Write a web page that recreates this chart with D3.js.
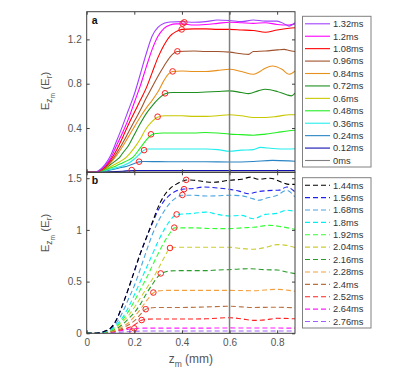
<!DOCTYPE html>
<html><head><meta charset="utf-8">
<script src="https://cdn.jsdelivr.net/npm/d3@7"></script>
<style>body{margin:0;background:#fff}svg{display:block}</style>
</head><body><svg id="c" width="415" height="374"></svg>
<script>
// ---------- DATA ----------
const xTicks = [0, 0.2, 0.4, 0.6, 0.8];
const yTicksA = [0.4, 0.8, 1.2];
const yTicksB = [0, 0.5, 1, 1.5];
const markerX = 0.6;

const labelsA = ["1.32ms","1.2ms","1.08ms","0.96ms","0.84ms","0.72ms","0.6ms","0.48ms","0.36ms","0.24ms","0.12ms","0ms"];
const labelsB = ["1.44ms","1.56ms","1.68ms","1.8ms","1.92ms","2.04ms","2.16ms","2.28ms","2.4ms","2.52ms","2.64ms","2.76ms"];

const a132 = [[0,0],[0.035,0],[0.05,0.015],[0.075,0.065],[0.1,0.15],[0.125,0.28],[0.15,0.415],[0.175,0.56],[0.2,0.705],[0.225,0.885],[0.25,1.07],[0.275,1.23],[0.3,1.31],[0.325,1.345],[0.35,1.357],[0.4,1.36],[0.45,1.355],[0.5,1.36],[0.55,1.375],[0.6,1.37],[0.65,1.36],[0.7,1.375],[0.75,1.365],[0.8,1.365],[0.83,1.34],[0.85,1.32],[0.875,1.35]];
const a120 = [[0,0],[0.035,0],[0.05,0.012],[0.075,0.055],[0.1,0.125],[0.125,0.24],[0.15,0.355],[0.175,0.48],[0.2,0.63],[0.225,0.78],[0.25,0.95],[0.275,1.11],[0.3,1.23],[0.325,1.3],[0.35,1.33],[0.375,1.34],[0.4,1.34],[0.45,1.33],[0.5,1.335],[0.55,1.345],[0.6,1.355],[0.65,1.35],[0.7,1.345],[0.75,1.35],[0.8,1.335],[0.85,1.33],[0.875,1.34]];
const a108 = [[0,0],[0.035,0],[0.05,0.01],[0.075,0.045],[0.1,0.11],[0.125,0.2],[0.15,0.31],[0.175,0.43],[0.2,0.54],[0.225,0.65],[0.25,0.76],[0.275,0.9],[0.3,1.04],[0.325,1.15],[0.35,1.23],[0.375,1.27],[0.4,1.29],[0.45,1.295],[0.5,1.295],[0.55,1.29],[0.6,1.29],[0.65,1.285],[0.7,1.28],[0.75,1.265],[0.8,1.285],[0.85,1.3],[0.875,1.305]];
const a096 = [[0,0],[0.035,0],[0.05,0.009],[0.075,0.04],[0.1,0.095],[0.125,0.17],[0.15,0.26],[0.175,0.36],[0.2,0.46],[0.225,0.56],[0.25,0.67],[0.275,0.77],[0.3,0.87],[0.325,0.96],[0.35,1.04],[0.38,1.09],[0.45,1.095],[0.5,1.09],[0.55,1.09],[0.6,1.085],[0.65,1.07],[0.68,1.065],[0.7,1.09],[0.75,1.095],[0.8,1.105],[0.83,1.11],[0.85,1.1],[0.875,1.09]];
const a084 = [[0,0],[0.035,0],[0.05,0.008],[0.075,0.035],[0.1,0.085],[0.125,0.15],[0.15,0.23],[0.175,0.32],[0.2,0.41],[0.225,0.5],[0.25,0.58],[0.275,0.65],[0.3,0.73],[0.325,0.83],[0.345,0.89],[0.36,0.91],[0.4,0.915],[0.45,0.91],[0.5,0.91],[0.55,0.92],[0.6,0.93],[0.65,0.91],[0.7,0.885],[0.72,0.9],[0.75,0.94],[0.78,0.96],[0.82,0.93],[0.85,0.885],[0.875,0.915]];
const a072 = [[0,0],[0.035,0],[0.05,0.007],[0.075,0.03],[0.1,0.07],[0.125,0.11],[0.14,0.14],[0.15,0.17],[0.175,0.24],[0.2,0.34],[0.225,0.44],[0.25,0.53],[0.275,0.6],[0.3,0.66],[0.33,0.71],[0.36,0.72],[0.45,0.72],[0.5,0.725],[0.55,0.73],[0.6,0.735],[0.65,0.72],[0.68,0.71],[0.72,0.735],[0.75,0.75],[0.8,0.73],[0.84,0.7],[0.86,0.69],[0.875,0.715]];
const a060 = [[0,0],[0.035,0],[0.05,0.006],[0.075,0.025],[0.1,0.05],[0.125,0.08],[0.15,0.11],[0.168,0.14],[0.2,0.22],[0.225,0.3],[0.245,0.38],[0.275,0.46],[0.3,0.5],[0.33,0.51],[0.4,0.51],[0.45,0.505],[0.5,0.505],[0.55,0.51],[0.6,0.52],[0.65,0.51],[0.7,0.495],[0.75,0.495],[0.8,0.505],[0.85,0.52],[0.875,0.52]];
const a048 = [[0,0],[0.035,0],[0.05,0.005],[0.075,0.02],[0.1,0.04],[0.125,0.06],[0.15,0.085],[0.175,0.11],[0.196,0.14],[0.225,0.22],[0.25,0.29],[0.27,0.335],[0.29,0.35],[0.32,0.355],[0.4,0.355],[0.45,0.355],[0.5,0.36],[0.55,0.355],[0.6,0.345],[0.65,0.34],[0.7,0.335],[0.75,0.345],[0.8,0.36],[0.85,0.375],[0.875,0.38]];
const a036 = [[0,0],[0.035,0],[0.05,0.004],[0.075,0.015],[0.1,0.028],[0.125,0.042],[0.15,0.058],[0.175,0.081],[0.2,0.12],[0.225,0.17],[0.24,0.198],[0.26,0.21],[0.3,0.21],[0.4,0.21],[0.5,0.21],[0.55,0.205],[0.6,0.19],[0.65,0.2],[0.7,0.205],[0.73,0.225],[0.78,0.215],[0.85,0.21],[0.875,0.212]];
const a024 = [[0,0],[0.035,0],[0.05,0.003],[0.075,0.01],[0.1,0.02],[0.125,0.032],[0.15,0.045],[0.175,0.06],[0.2,0.08],[0.22,0.094],[0.24,0.097],[0.3,0.096],[0.4,0.095],[0.5,0.095],[0.6,0.093],[0.7,0.098],[0.78,0.108],[0.85,0.103],[0.875,0.1]];
const a012 = [[0,0],[0.05,0],[0.1,0.005],[0.15,0.01],[0.2,0.016],[0.875,0.016]];
const a000 = [[0,0],[0.875,0]];

const b144 = [[0,0],[0.04,0],[0.075,0.02],[0.1,0.05],[0.125,0.13],[0.15,0.27],[0.175,0.43],[0.2,0.6],[0.225,0.77],[0.25,0.92],[0.275,1.07],[0.3,1.22],[0.325,1.33],[0.35,1.4],[0.375,1.44],[0.4,1.47],[0.42,1.483],[0.45,1.48],[0.5,1.465],[0.53,1.46],[0.6,1.48],[0.65,1.49],[0.69,1.51],[0.72,1.49],[0.77,1.5],[0.82,1.46],[0.85,1.44],[0.875,1.44]];
const b156 = [[0,0],[0.04,0],[0.075,0.02],[0.1,0.05],[0.125,0.13],[0.15,0.27],[0.175,0.43],[0.2,0.6],[0.225,0.77],[0.25,0.92],[0.275,1.06],[0.3,1.19],[0.325,1.28],[0.35,1.34],[0.375,1.375],[0.41,1.395],[0.45,1.4],[0.49,1.415],[0.55,1.405],[0.6,1.392],[0.64,1.375],[0.68,1.35],[0.72,1.37],[0.76,1.38],[0.81,1.385],[0.84,1.415],[0.875,1.367]];
const b168 = [[0,0],[0.04,0],[0.075,0.015],[0.1,0.04],[0.125,0.1],[0.15,0.2],[0.175,0.33],[0.2,0.46],[0.225,0.62],[0.25,0.79],[0.275,0.95],[0.3,1.08],[0.325,1.18],[0.35,1.26],[0.375,1.31],[0.4,1.335],[0.45,1.335],[0.5,1.328],[0.55,1.33],[0.6,1.335],[0.65,1.33],[0.7,1.3],[0.72,1.286],[0.76,1.31],[0.8,1.335],[0.84,1.383],[0.875,1.318]];
const b180 = [[0,0],[0.045,0],[0.075,0.013],[0.1,0.035],[0.125,0.08],[0.15,0.15],[0.175,0.25],[0.2,0.37],[0.225,0.5],[0.25,0.63],[0.275,0.76],[0.3,0.89],[0.325,1.0],[0.35,1.09],[0.378,1.147],[0.45,1.16],[0.5,1.172],[0.55,1.15],[0.6,1.135],[0.65,1.14],[0.7,1.108],[0.75,1.15],[0.8,1.16],[0.84,1.19],[0.875,1.18]];
const b192 = [[0,0],[0.045,0],[0.075,0.012],[0.1,0.03],[0.125,0.07],[0.15,0.13],[0.175,0.21],[0.2,0.31],[0.225,0.42],[0.25,0.53],[0.275,0.65],[0.3,0.77],[0.325,0.88],[0.35,0.97],[0.37,1.02],[0.45,1.02],[0.5,1.015],[0.55,1.012],[0.6,1.012],[0.65,1.02],[0.7,1.025],[0.77,1.044],[0.82,1.03],[0.875,1.005]];
const b204 = [[0,0],[0.05,0],[0.075,0.01],[0.1,0.025],[0.125,0.06],[0.15,0.11],[0.175,0.17],[0.2,0.25],[0.225,0.34],[0.25,0.43],[0.275,0.52],[0.3,0.62],[0.325,0.73],[0.35,0.82],[0.38,0.832],[0.5,0.832],[0.6,0.832],[0.65,0.82],[0.7,0.813],[0.75,0.83],[0.8,0.858],[0.84,0.85],[0.875,0.83]];
const b216 = [[0,0],[0.05,0],[0.075,0.008],[0.1,0.02],[0.125,0.045],[0.15,0.085],[0.175,0.14],[0.2,0.2],[0.225,0.28],[0.25,0.38],[0.275,0.47],[0.3,0.55],[0.325,0.59],[0.35,0.603],[0.4,0.606],[0.5,0.606],[0.55,0.612],[0.6,0.616],[0.68,0.625],[0.75,0.615],[0.8,0.612],[0.84,0.593],[0.875,0.577]];
const b228 = [[0,0],[0.05,0],[0.075,0.007],[0.1,0.017],[0.125,0.035],[0.15,0.065],[0.175,0.1],[0.2,0.16],[0.225,0.23],[0.25,0.31],[0.28,0.39],[0.3,0.41],[0.33,0.415],[0.4,0.415],[0.5,0.415],[0.6,0.415],[0.7,0.412],[0.8,0.425],[0.85,0.415],[0.875,0.406]];
const b240 = [[0,0],[0.05,0],[0.075,0.006],[0.1,0.014],[0.125,0.028],[0.15,0.05],[0.175,0.08],[0.2,0.12],[0.225,0.18],[0.248,0.232],[0.275,0.247],[0.3,0.25],[0.4,0.25],[0.5,0.255],[0.6,0.261],[0.7,0.25],[0.8,0.252],[0.875,0.247]];
const b252 = [[0,0],[0.05,0],[0.075,0.005],[0.1,0.012],[0.125,0.022],[0.15,0.036],[0.175,0.055],[0.2,0.08],[0.23,0.126],[0.26,0.137],[0.3,0.138],[0.4,0.138],[0.5,0.14],[0.6,0.151],[0.65,0.14],[0.7,0.125],[0.75,0.13],[0.8,0.145],[0.875,0.14]];
const b264 = [[0,0],[0.05,0],[0.1,0.01],[0.15,0.028],[0.2,0.047],[0.25,0.05],[0.5,0.05],[0.6,0.052],[0.875,0.05]];
const b276 = [[0,0],[0.05,0],[0.1,0.005],[0.15,0.013],[0.19,0.018],[0.25,0.022],[0.875,0.022]];

const seriesA = [a132,a120,a108,a096,a084,a072,a060,a048,a036,a024,a012,a000];
const seriesB = [b144,b156,b168,b180,b192,b204,b216,b228,b240,b252,b264,b276];

const circlesA = [[0.189,0.02],[0.22,0.096],[0.241,0.2],[0.27,0.343],[0.298,0.502],[0.329,0.713],[0.361,0.911],[0.381,1.092],[0.399,1.29],[0.403,1.343],[0.41,1.354]];
const circlesB = [[0.418,1.484],[0.409,1.394],[0.402,1.338],[0.378,1.15],[0.368,1.022],[0.35,0.825],[0.311,0.579],[0.28,0.394],[0.248,0.233],[0.231,0.128],[0.20,0.048],[0.192,0.018]];

// ---------- STYLE ----------
const colorsA = ["#a040ff","#ff00ff","#ff0000","#a0522d","#e8901c","#1f8f1f","#c8c800","#22ee22","#22eeee","#2a84c4","#1010b0","#808080"];
const colorsB = ["#000000","#2020f0","#4aa3df","#00f0f0","#33ff33","#cccc33","#2a9a2a","#f5a040","#b87040","#ff2020","#ff20ff","#a060ff"];
const FONT = "'Liberation Sans', Arial, Helvetica, sans-serif";
const axisColor = "#404040";
const textColor = "#555555";

const svg = d3.select("#c").style("font-family", FONT);
const L = 86.7, R = 295;
const x = d3.scaleLinear([0, 0.875], [L, R]);
const yA = d3.scaleLinear([0, 1.45], [172.3, 11.7]);
const yB = d3.scaleLinear([0, 1.557], [333.3, 172.3]);

const defs = svg.append("defs");
function clip(id, y) {
  defs.append("clipPath").attr("id", id).append("rect")
    .attr("x", L).attr("y", y.range()[1]).attr("width", R - L).attr("height", y.range()[0] - y.range()[1]);
}
clip("clipA", yA); clip("clipB", yB);

function panel(y, series, colors, circles, clipId, dashed, yTicks, letter) {
  const g = svg.append("g");
  const line = d3.line().x(d => x(d[0])).y(d => y(d[1])).curve(d3.curveMonotoneX);
  const lg = g.append("g").attr("clip-path", `url(#${clipId})`);
  series.slice().reverse().forEach((s, i) => {
    const idx = series.length - 1 - i;
    lg.append("path").attr("d", line(s)).attr("fill", "none")
      .attr("stroke", colors[idx]).attr("stroke-width", 1.1)
      .attr("stroke-dasharray", dashed ? "5,3" : null);
  });
  lg.append("line").attr("x1", x(markerX)).attr("x2", x(markerX))
    .attr("y1", y.range()[1]).attr("y2", y.range()[0])
    .attr("stroke", "#808080").attr("stroke-width", 1.5);
  lg.selectAll("circle.m").data(circles).join("circle")
    .attr("cx", d => x(d[0])).attr("cy", d => y(d[1])).attr("r", 2.8)
    .attr("fill", "none").attr("stroke", "#ff2020").attr("stroke-width", 1);

  const style = a => {
    a.select(".domain").remove();
    a.selectAll("line").attr("stroke", axisColor);
    a.selectAll("text").attr("fill", textColor).style("font-size", "10px").style("font-family", FONT);
  };
  g.append("g").attr("transform", `translate(${L},0)`)
    .call(d3.axisLeft(y).tickValues(yTicks).tickSize(-3).tickPadding(5).tickFormat(d => String(d)))
    .call(style);
  g.append("g").attr("transform", `translate(${R},0)`)
    .call(d3.axisRight(y).tickValues(yTicks).tickSize(-3).tickFormat(""))
    .call(style);
  g.append("g").attr("transform", `translate(0,${y.range()[0]})`)
    .call(d3.axisBottom(x).tickValues(xTicks).tickSize(-3).tickPadding(6).tickFormat(d => letter === "b" ? String(d) : ""))
    .call(style);
  g.append("g").attr("transform", `translate(0,${y.range()[1]})`)
    .call(d3.axisTop(x).tickValues(xTicks).tickSize(-3).tickFormat(""))
    .call(style);
  g.append("rect").attr("x", L).attr("y", y.range()[1]).attr("width", R - L)
    .attr("height", y.range()[0] - y.range()[1]).attr("fill", "none")
    .attr("stroke", axisColor).attr("stroke-width", 1);
  g.append("text").attr("x", L + 5).attr("y", y.range()[1] + 12)
    .attr("font-weight", "bold").attr("font-size", 10.5).attr("fill", "#111").text(letter);
}

panel(yA, seriesA, colorsA, circlesA, "clipA", false, yTicksA, "a");
panel(yB, seriesB, colorsB, circlesB, "clipB", true, yTicksB, "b");

function ylabel(cx, cy) {
  const t = svg.append("text").attr("transform", `translate(${cx},${cy}) rotate(-90)`)
    .attr("text-anchor", "middle").attr("fill", textColor).attr("font-size", 11.5);
  t.append("tspan").text("E");
  t.append("tspan").attr("dy", 3).attr("font-size", 8.5).text("z");
  t.append("tspan").attr("dy", 2.5).attr("font-size", 6.5).text("m");
  t.append("tspan").attr("dy", -5.5).text(" (E");
  t.append("tspan").attr("dy", 3).attr("font-size", 8.5).text("r");
  t.append("tspan").attr("dy", -3).text(")");
}
ylabel(49, 91);
ylabel(49, 233);

const xl = svg.append("text").attr("x", (L + R) / 2).attr("y", 362.5)
  .attr("text-anchor", "middle").attr("fill", textColor).attr("font-size", 12);
xl.append("tspan").text("z");
xl.append("tspan").attr("dy", 4).attr("font-size", 8.5).text("m");
xl.append("tspan").attr("dy", -4).text(" (mm)");

function legend(top, bottom, labels, colors, dashed) {
  const g = svg.append("g");
  g.append("rect").attr("x", 302.5).attr("y", top).attr("width", 68.5).attr("height", bottom - top)
    .attr("fill", "#fff").attr("stroke", "#808080").attr("stroke-width", 1);
  const step = (bottom - top - 14) / (labels.length - 1);
  labels.forEach((lab, i) => {
    const yy = top + 7.5 + i * step;
    g.append("line").attr("x1", 305).attr("x2", 330).attr("y1", yy).attr("y2", yy)
      .attr("stroke", colors[i]).attr("stroke-width", 1.1)
      .attr("stroke-dasharray", dashed ? "5,3" : null);
    g.append("text").attr("x", 333).attr("y", yy + 3.3).attr("font-size", 9.3)
      .attr("fill", "#333").text(lab);
  });
}
legend(16.3, 167, labelsA, colorsA, false);
legend(177.7, 328, labelsB, colorsB, true);
</script></body></html>
